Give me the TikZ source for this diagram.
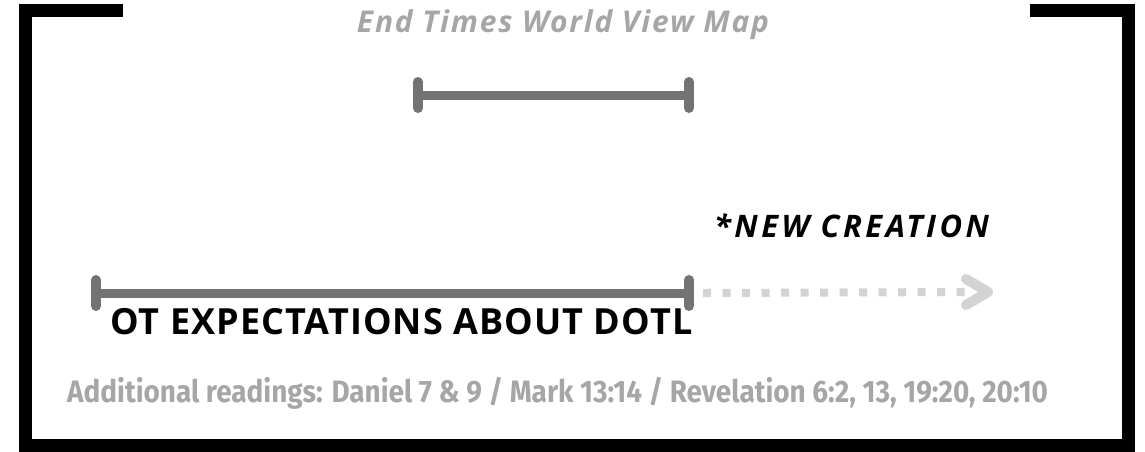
\documentclass[tikz,border=0pt]{standalone}
\usepackage{fontspec}
\setmainfont{Open Sans}
\newfontfamily\titlefont[LetterSpace=6]{Open Sans}
\newfontfamily\newcfont[LetterSpace=11]{Open Sans}
\newfontfamily\otfont[LetterSpace=3]{Open Sans}
\newfontfamily\readfont[FakeStretch=0.90]{Fira Sans}
\usetikzlibrary{arrows.meta}
\definecolor{framec}{HTML}{000000}
\definecolor{barc}{HTML}{737373}
\definecolor{dotc}{HTML}{D3D3D3}
\definecolor{greytext}{HTML}{A6A6A6}
\tikzset{
  framepiece/.style={draw=framec, line width=13pt},
  bar/.style={draw=barc, line width=9pt},
  tick/.style={draw=barc, line width=10pt, line cap=round},
  future/.style={draw=dotc, line width=8pt, dash pattern=on 8pt off 11.5pt},
  chevron/.style={draw=dotc, line width=10pt, line cap=round, line join=round},
}
\begin{document}
\begin{tikzpicture}[x=1pt,y=-1pt]
\useasboundingbox (0,0) rectangle (1145,451);
% frame
\coordinate (tl) at (25,10.5);
\coordinate (tle) at (123,10.5);
\coordinate (tr) at (1128,10.5);
\coordinate (tre) at (1030,10.5);
\coordinate (bl) at (25,445);
\coordinate (br) at (1128,445);
\draw[framepiece] (tle) -- (tl) -- (bl) -- (br) -- (tr) -- (tre);
% title
\node[text=greytext, font=\titlefont\bfseries\itshape\fontsize{30}{33}\selectfont, anchor=base, inner sep=0pt] (title) at (563,32) {End Times World View Map};
% upper bar
\coordinate (ua) at (418,95);
\coordinate (ub) at (689,95);
\draw[bar] (ua) -- (ub);
\draw[tick] ([yshift=-13pt]ua) -- ([yshift=13pt]ua);
\draw[tick] ([yshift=-13pt]ub) -- ([yshift=13pt]ub);
% lower bar
\coordinate (la) at (96,293);
\coordinate (lb) at (689,293);
\coordinate (tip) at (988,292);
\draw[future] ([xshift=14pt]lb) -- ([xshift=-20pt]tip);
\draw[chevron] ([xshift=-22pt,yshift=-13pt]tip) -- (tip) -- ([xshift=-22pt,yshift=13pt]tip);
\draw[bar] (la) -- (lb);
\draw[tick] ([yshift=-13pt]la) -- ([yshift=13pt]la);
\draw[tick] ([yshift=-13pt]lb) -- ([yshift=13pt]lb);
% labels
\node[text=black, font=\newcfont\bfseries\itshape\fontsize{31}{34}\selectfont, anchor=base west, inner sep=0pt] (newc) at (714,237) {*NEW CREATION};
\node[text=black, font=\otfont\bfseries\fontsize{36}{40}\selectfont, anchor=base west, inner sep=0pt] (ot) at (110,334) {OT EXPECTATIONS ABOUT DOTL};
\node[text=greytext, font=\readfont\bfseries\fontsize{31}{34}\selectfont, anchor=base west, inner sep=0pt] (read) at (67,402) {Additional readings: Daniel 7 \& 9 / Mark 13:14 / Revelation 6:2, 13, 19:20, 20:10};
\end{tikzpicture}
\end{document}
